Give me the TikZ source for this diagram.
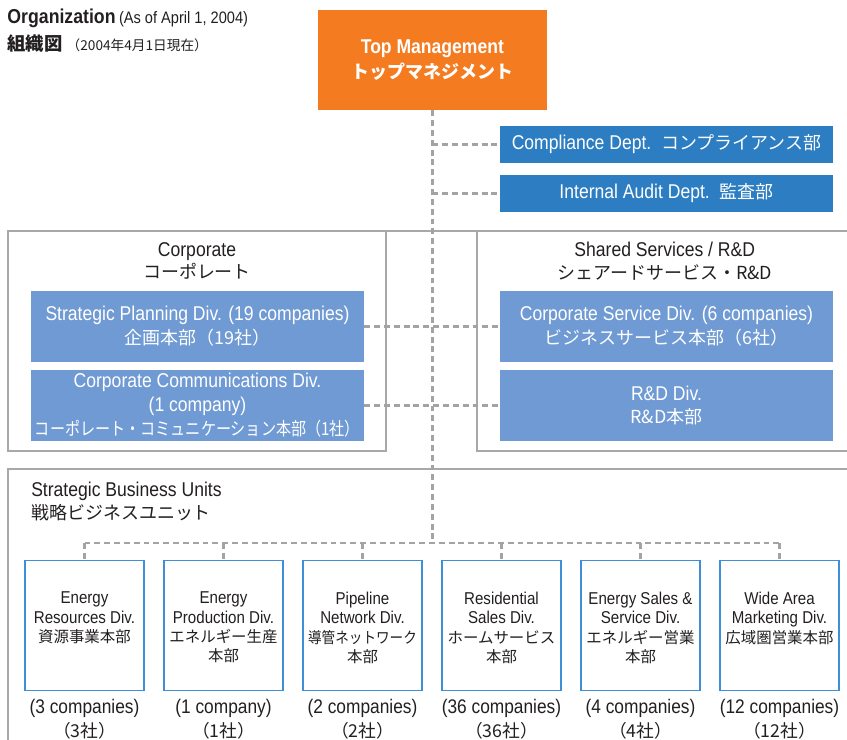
\documentclass[tikz,border=0pt]{standalone}
\usepackage{fontspec}
\setmainfont{Liberation Sans}[FakeStretch=0.88]
\newfontfamily\jp{Noto Sans CJK JP}[Scale=0.9]
\usepackage{graphicx}
\usetikzlibrary{positioning}
\definecolor{orgorange}{HTML}{F47B20}
\definecolor{orgblue}{HTML}{2C7DC2}
\definecolor{orgbluelight}{HTML}{6F9AD3}
\definecolor{orgunitline}{HTML}{3E8ED8}
\definecolor{orggray}{HTML}{A3A3A3}
\definecolor{orgframeline}{HTML}{A8A8A8}
\definecolor{orgtext}{HTML}{231F20}
\tikzset{
  orgtop/.style={fill=orgorange, text=white, align=center, inner sep=0pt,
                 font=\fontsize{14.2}{17.5}\selectfont\bfseries,
                 minimum width=5.725cm, minimum height=2.5cm},
  orgdept/.style={fill=orgblue, text=white, inner sep=0pt,
                 font=\fontsize{14.2}{17}\selectfont,
                 minimum width=8.325cm, minimum height=0.925cm},
  orgdiv/.style={fill=orgbluelight, text=white, align=center, inner sep=0pt,
                 font=\fontsize{14.2}{17}\selectfont,
                 minimum width=8.325cm, minimum height=1.775cm},
  orgframe/.style={draw=orgframeline, line width=0.8pt},
  orgheading/.style={text=orgtext, align=center, inner sep=0pt,
                 font=\fontsize{14.2}{16}\selectfont},
  orgunit/.style={draw=orgunitline, fill=white, line width=0.9pt, inner sep=0pt,
                 minimum width=2.975cm, minimum height=3.25cm},
  orgunittext/.style={text=orgtext, align=center, inner sep=0pt, anchor=north,
                 font=\fontsize{12.2}{13.8}\selectfont},
  orgcount/.style={text=orgtext, align=center, inner sep=0pt, anchor=north,
                 font=\fontsize{14}{17}\selectfont},
  orglink/.style={draw=orggray, line width=1.9pt, dash pattern=on 4.2pt off 2.8pt},
}

\begin{document}
\begin{tikzpicture}
    \useasboundingbox (0,0) rectangle (21.175,-18.5);
    \node[anchor=north west, align=left, inner sep=0pt, text=orgtext] (title) at (0.18,-0.22)
        {{\fontsize{14.3}{19}\selectfont\bfseries Organization} {\fontsize{11.8}{19}\selectfont (As of April 1, 2004)}\\[4pt]
         {\jp\fontsize{14.5}{19}\selectfont\bfseries 組織図}\hspace{3pt}{\jp\fontsize{10.8}{19}\selectfont （2004年4月1日現在）}};
    \node[orgtop] (top) at (10.81,-1.5) {Top Management\\ {\jp トップマネジメント}};
    \node[orgdept] (comp) at (16.6625,-3.6125) {Compliance Dept.\ \ {\jp コンプライアンス部}};
    \node[orgdept] (audit) at (16.6625,-4.8375) {Internal Audit Dept.\ \ {\jp 監査部}};

    \draw[orgframe] (21.175,-5.775) -| (0.2,-11.275) -- (9.65,-11.275) |- (0.2,-5.775);
    \draw[orgframe] (21.175,-5.775) -| (11.925,-11.275) -- (21.175,-11.275);
    \draw[orgframe] (21.175,-11.725) -| (0.2,-18.5);

    \node[orgheading, anchor=north] (corph) at (4.925,-6.05) {Corporate\\ {\jp コーポレート}};
    \node[orgheading, anchor=north] (sharedh) at (16.62,-6.05) {Shared Services / R\&D\\ {\jp シェアードサービス・R\&D}};
    \node[orgheading, anchor=north west, align=left] (sbuh) at (0.775,-12.05) {Strategic Business Units\\ {\jp 戦略ビジネスユニット}};

    \node[orgdiv] (sp) at (4.9375,-8.1625) {Strategic Planning Div. (19 companies)\\ {\jp 企画本部（19社）}};
    \node[orgdiv] (cc) at (4.9375,-10.1375) {Corporate Communications Div.\\ (1 company)\\ \scalebox{0.84}[1]{\jp コーポレート・コミュニケーション本部（1社）}};
    \node[orgdiv] (cs) at (16.6625,-8.1625) {Corporate Service Div. (6 companies)\\ {\jp ビジネスサービス本部（6社）}};
    \node[orgdiv] (rd) at (16.6625,-10.1375) {R\&D Div.\\ {\jp R\&D本部}};

    \coordinate (bus) at (10.81,-13.575);
    \node[orgunit, anchor=north] (u1) at (2.1125,-14.0) {};
    \node[orgunit, anchor=north] (u2) at (5.5875,-14.0) {};
    \node[orgunit, anchor=north] (u3) at (9.0625,-14.0) {};
    \node[orgunit, anchor=north] (u4) at (12.5375,-14.0) {};
    \node[orgunit, anchor=north] (u5) at (16.0125,-14.0) {};
    \node[orgunit, anchor=north] (u6) at (19.4875,-14.0) {};
    \node[orgunittext] (ut1) at ([yshift=-0.79cm]u1.north) {Energy\\ Resources Div.\\ {\jp 資源事業本部}};
    \node[orgunittext] (ut2) at ([yshift=-0.79cm]u2.north) {Energy\\ Production Div.\\ {\jp エネルギー生産}\\ {\jp 本部}};
    \node[orgunittext] (ut3) at ([yshift=-0.79cm]u3.north) {Pipeline\\ Network Div.\\ \scalebox{0.88}[1]{\jp 導管ネットワーク}\\ {\jp 本部}};
    \node[orgunittext] (ut4) at ([yshift=-0.79cm]u4.north) {Residential\\ Sales Div.\\ {\jp ホームサービス}\\ {\jp 本部}};
    \node[orgunittext] (ut5) at ([yshift=-0.79cm]u5.north) {Energy Sales \&\\ Service Div.\\ {\jp エネルギー営業}\\ {\jp 本部}};
    \node[orgunittext] (ut6) at ([yshift=-0.79cm]u6.north) {Wide Area\\ Marketing Div.\\ {\jp 広域圏営業本部}};
    \node[orgcount] (uc1) at ([yshift=-0.2cm]u1.south) {(3 companies)\\ {\jp （3社）}};
    \node[orgcount] (uc2) at ([yshift=-0.2cm]u2.south) {(1 company)\\ {\jp （1社）}};
    \node[orgcount] (uc3) at ([yshift=-0.2cm]u3.south) {(2 companies)\\ {\jp （2社）}};
    \node[orgcount] (uc4) at ([yshift=-0.2cm]u4.south) {(36 companies)\\ {\jp （36社）}};
    \node[orgcount] (uc5) at ([yshift=-0.2cm]u5.south) {(4 companies)\\ {\jp （4社）}};
    \node[orgcount] (uc6) at ([yshift=-0.2cm]u6.south) {(12 companies)\\ {\jp （12社）}};

    \draw[orglink] (top.south) -- (bus);
    \draw[orglink] (top.south |- comp.west) -- (comp.west);
    \draw[orglink] (top.south |- audit.west) -- (audit.west);
    \draw[orglink] (sp.east) -- (cs.west);
    \draw[orglink] (cc.east) -- (rd.west);
    \draw[orglink] (u1.north |- bus) -- (u6.north |- bus);
    \foreach \k in {1,...,6}
        \draw[orglink] (u\k.north |- bus) -- (u\k.north);
\end{tikzpicture}
\end{document}
